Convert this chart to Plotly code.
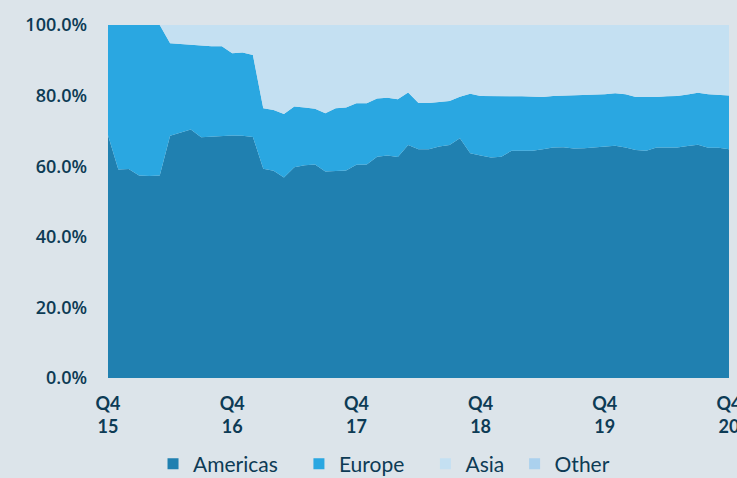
import plotly.graph_objects as go

months = list(range(61))
tick_pos = [0, 12, 24, 36, 48, 60]
tick_text = ["Q4<br>15", "Q4<br>16", "Q4<br>17", "Q4<br>18", "Q4<br>19", "Q4<br>20"]

americas = [68.8, 59.1, 59.2, 57.4, 57.2, 57.4, 68.6, 69.5, 70.4, 68.2,
            68.4, 68.4, 68.7, 68.6, 68.3, 59.3, 58.7, 56.8, 59.7, 60.3,
            60.5, 58.5, 58.7, 58.8, 60.4, 60.5, 62.7, 63.0, 62.6, 66.0,
            64.8, 64.8, 65.6, 66.0, 67.9, 63.7, 63.0, 62.5, 62.7, 64.4,
            64.4, 64.4, 64.8, 65.3, 65.4, 65.0, 65.1, 65.3, 65.6, 65.8,
            65.3, 64.6, 64.4, 65.3, 65.3, 65.3, 65.7, 66.1, 65.2, 65.2, 64.8]
europe = [31.2, 40.9, 40.8, 42.6, 42.8, 42.6, 26.2, 25.1, 23.9, 25.9,
          25.6, 25.6, 23.3, 23.6, 23.2, 17.1, 17.2, 18.0, 17.2, 16.3,
          15.8, 16.5, 17.7, 17.8, 17.4, 17.3, 16.5, 16.4, 16.4, 14.9,
          13.1, 13.1, 12.7, 12.5, 11.8, 16.8, 16.9, 17.3, 17.1, 15.4,
          15.4, 15.3, 14.8, 14.6, 14.6, 15.0, 14.9, 14.9, 14.8, 14.9,
          15.1, 15.0, 15.1, 14.3, 14.5, 14.6, 14.6, 14.7, 15.2, 15.0, 15.2]
asia = [0.0, 0.0, 0.0, 0.0, 0.0, 0.0, 5.2, 5.4, 5.7, 5.9,
        6.0, 6.0, 8.0, 7.8, 8.5, 23.6, 24.1, 25.2, 23.1, 23.4,
        23.7, 25.0, 23.6, 23.4, 22.2, 22.2, 20.8, 20.6, 21.0, 19.1,
        22.1, 22.1, 21.7, 21.5, 20.3, 19.5, 20.1, 20.2, 20.2, 20.2,
        20.2, 20.3, 20.4, 20.1, 20.0, 20.0, 20.0, 19.8, 19.6, 19.3,
        19.6, 20.4, 20.5, 20.4, 20.2, 20.1, 19.7, 19.2, 19.6, 19.8, 20.0]
other = [0.0] * 61

series = [("Americas", americas, "#2080B0"),
          ("Europe", europe, "#2AA7E1"),
          ("Asia", asia, "#C4E0F2"),
          ("Other", other, "#ABD1EE")]

TEXT = "#0D3B55"
BG = "#DCE4EA"
PADS = ["\u00a0\u00a0\u00a0", "\u00a0\u00a0\u00a0", "\u00a0", ""]

fig = go.Figure()
for name, vals, col in series:
    fig.add_trace(go.Scatter(
        x=months, y=vals, name=name, mode="lines",
        stackgroup="one", line=dict(width=0, color=col),
        fillcolor=col, hoverinfo="skip", showlegend=False))
# legend entries with square swatches
for (name, vals, col), pad in zip(series, PADS):
    fig.add_trace(go.Scatter(
        x=[None], y=[None], name=name + pad, mode="markers",
        marker=dict(symbol="square", size=11, color=col),
        showlegend=True))

fig.update_layout(
    width=737, height=478,
    paper_bgcolor=BG, plot_bgcolor=BG,
    margin=dict(l=108, r=8, t=25, b=100, autoexpand=False),
    font=dict(family="Lato", color=TEXT),
    showlegend=True,
    legend=dict(orientation="h", x=0.0725, xanchor="left",
                y=-0.244, yanchor="middle",
                font=dict(size=21, color=TEXT),
                itemwidth=30, traceorder="normal",
                bgcolor="rgba(0,0,0,0)"),
)
fig.update_xaxes(range=[0, 60], tickvals=tick_pos, ticktext=tick_text,
                 showgrid=False, zeroline=False, showline=False,
                 automargin=False, ticklabeloverflow="allow",
                 ticks="", ticklabelstandoff=13,
                 tickfont=dict(family="Lato", size=18, color=TEXT, weight=700))
fig.update_yaxes(range=[0, 100], tickvals=[0, 20, 40, 60, 80, 100],
                 ticktext=["0.0%", "20.0%", "40.0%", "60.0%", "80.0%", "100.0%"],
                 showgrid=False, zeroline=False, showline=False,
                 automargin=False,
                 ticks="", ticklabelstandoff=20,
                 tickfont=dict(family="Open Sans", size=18, color=TEXT, weight=600))

fig.write_html("out.html",
               config={"displayModeBar": False},
               post_script="document.body.style.margin='0';"
                           "document.body.style.overflow='hidden';"
                           f"document.body.style.background='{BG}';")
